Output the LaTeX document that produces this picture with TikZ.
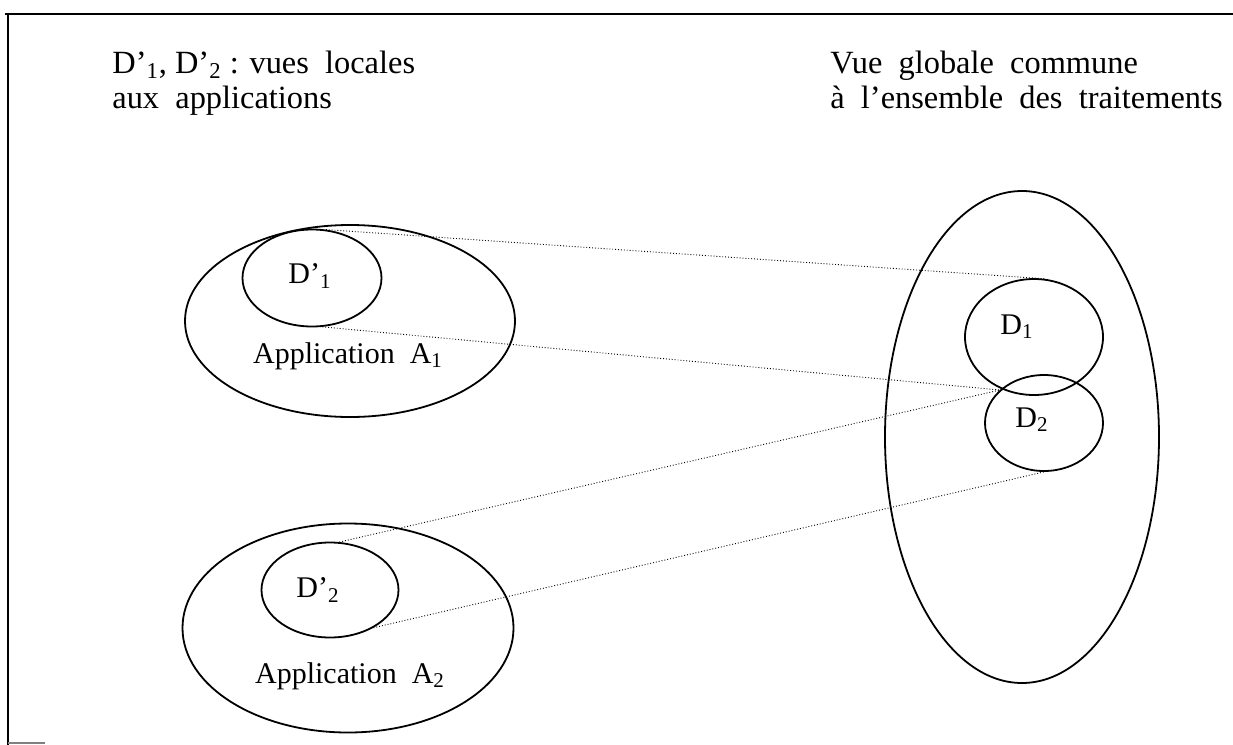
\documentclass[tikz,border=0pt]{standalone}
\usepackage{fontspec}
\setmainfont{Liberation Serif}
\usepackage{tikz}
\usetikzlibrary{shapes.geometric}

\tikzset{
    oval/.style={draw, ellipse, line width=0.9pt, inner sep=0pt},
    lien/.style={line width=0.45pt, densely dotted},
    txt/.style={font=\fontsize{15}{18}\selectfont, inner sep=0pt},
    titre/.style={font=\fontsize{16.2}{19}\selectfont, inner sep=0pt, anchor=base west},
}

\begin{document}
\begin{tikzpicture}[x=0.5pt, y=-0.5pt]
    \useasboundingbox (0,0) rectangle (1233,745);
    %% Frame
    \draw[line width=1.4pt] (5,14) to (1233,14);
    \draw[line width=0.8pt] (8,14) to (8,745);
    \draw[gray, line width=0.6pt] (8,743) to (45,743);
    %% Titles
    \node[titre] (titreL1) at (112,73) {D’\textsubscript{1}, D’\textsubscript{2} : vues\ \ locales};
    \node[titre] (titreL2) at (112,108) {aux\ \ applications};
    \node[titre] (titreR1) at (830,73) {Vue\ \ globale\ \ commune};
    \node[titre] (titreR2) at (830,108) {à\ \ l’ensemble\ \ des\ \ traitements};
    %% Applications
    \node[oval, minimum width=165pt, minimum height=96pt] (A1) at (350,321) {};
    \node[oval, minimum width=69.5pt, minimum height=48.5pt] (Dp1) at (312,278) {};
    \node[oval, minimum width=165.5pt, minimum height=104.5pt] (A2) at (348,628) {};
    \node[oval, minimum width=68.5pt, minimum height=47.5pt] (Dp2) at (330,590) {};
    %% Global view
    \node[oval, minimum width=137pt, minimum height=246pt] (G) at (1022,437) {};
    \node[oval, minimum width=69pt, minimum height=58pt] (D1) at (1034,337) {};
    \node[oval, minimum width=59pt, minimum height=48pt] (D2) at (1044,423) {};
    \coordinate (x12) at (1000,390);
    %% Labels
    \node[txt] (lDp1) at (310,276) {D’\textsubscript{1}};
    \node[txt] (lDp2) at (318,590) {D’\textsubscript{2}};
    \node[txt] (lA1) at (348,356) {Application\ \ A\textsubscript{1}};
    \node[txt] (lA2) at (350,676) {Application\ \ A\textsubscript{2}};
    \node[txt] (lD1) at (1017,327) {D\textsubscript{1}};
    \node[txt] (lD2) at (1032,420) {D\textsubscript{2}};
    %% Correspondences
    \draw[lien] (Dp1.74) to (D1.80);
    \draw[lien] (Dp1.-78) to (x12);
    \draw[lien] (Dp2.79) to (x12);
    \draw[lien] (Dp2.-41) to (D2.south);
\end{tikzpicture}
\end{document}
